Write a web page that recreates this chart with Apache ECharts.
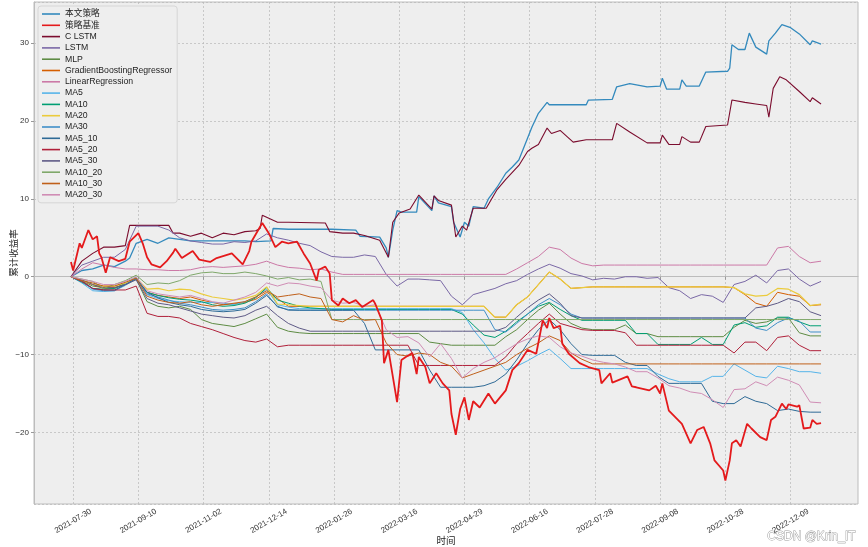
<!DOCTYPE html>
<html><head><meta charset="utf-8">
<script src="https://cdn.jsdelivr.net/npm/echarts@6/dist/echarts.min.js"></script>
<style>html,body{margin:0;padding:0;background:#fff}#c{width:868px;height:547px}</style>
</head><body><div id="c"></div><script>
// x tick labels (every 30 trading days, first at trading day 1)
const tickLabels = ['2021-07-30','2021-09-10','2021-11-02','2021-12-14','2022-01-26','2022-03-16','2022-04-29','2022-06-16','2022-07-28','2022-09-08','2022-10-28','2022-12-09'];
const N_DAYS = 346;   // trading days in the series
const STEP = 5;       // most series are read every 5 trading days
const PAD = 17;       // axis margin in days on each side

const names = ['本文策略','策略基准','C LSTM','LSTM','MLP','GradientBoostingRegressor','LinearRegression','MA5','MA10','MA20','MA30','MA5_10','MA5_20','MA5_30','MA10_20','MA10_30','MA20_30'];

// main lines: read at their turning points (day index, value)
const benwenDays = [0,5,10,15,20,25,27,30,35,40,45,50,55,60,65,70,75,80,85,92,93,100,110,120,131,133,142,145,146,148,150,152,159,160,166,167,169,175,176,179,181,183,185,190,192,196,200,203,206,210,212,215,219,220,237,238,249,251,257,265,271,272,274,280,281,283,289,292,302,303,304,307,310,312,315,320,321,324,327,331,335,340,341,345];
const benwen = [0,0.8,1.0,1.5,1.3,2.0,2.4,4.3,4.8,4.3,5.0,4.8,4.6,4.6,4.6,4.6,4.6,4.6,4.5,4.6,6.2,6.1,6.1,6.1,6.0,5.2,5.1,3.7,2.5,6.0,8.5,8.3,8.3,10.3,8.5,10.4,9.5,9.0,7.0,5.1,7.0,6.5,9.0,8.8,10.0,11.5,13.3,14.1,15.0,17.8,19.2,21.0,22.4,22.1,22.1,22.7,22.8,24.4,24.8,24.4,24.5,25.5,24.1,24.1,25.3,24.5,24.5,26.3,26.4,26.8,29.8,29.2,29.2,31.3,29.5,28.6,30.3,31.3,32.4,32.0,31.2,29.8,30.3,29.9];
const baselineDays = [0,1,4,5,8,10,12,13,14,16,18,22,25,27,31,33,35,37,41,44,47,48,51,56,59,64,67,74,79,82,83,88,91,94,97,100,104,107,110,113,114,117,119,120,123,125,128,131,134,139,140,143,144,146,150,152,154,157,159,160,163,165,168,171,174,175,177,179,181,183,185,188,192,195,200,203,206,210,214,217,219,220,222,225,226,229,234,238,243,244,248,249,256,258,260,266,269,271,272,275,281,285,288,291,294,296,300,301,303,304,306,308,311,313,317,320,322,324,327,329,330,334,335,337,340,341,343,345];
const baseline = [1.9,0.8,4.3,3.7,6.0,4.8,5.2,3.0,2.5,0.5,2.5,2.0,2.3,4.5,5.6,4.3,2.5,1.6,1.2,2.0,3.1,3.6,2.4,3.3,2.2,1.9,2.4,3.0,1.6,3.3,4.5,6.9,5.6,3.8,4.5,4.3,4.5,3.0,1.7,-0.5,0.9,1.3,0.4,-3.0,-3.7,-2.8,-3.4,-3.0,-3.9,-3.0,-3.5,-5.6,-11.1,-9.4,-16.1,-10.7,-10.3,-9.8,-12.5,-10.3,-11.6,-13.7,-12.4,-13.7,-14.6,-17.6,-20.3,-17.0,-15.5,-18.4,-16.0,-16.8,-15.0,-16.3,-14.6,-12.0,-11.1,-9.4,-9.9,-5.6,-6.6,-5.3,-6.6,-6.3,-8.6,-9.9,-11.1,-11.6,-12.0,-13.7,-12.4,-13.6,-12.8,-14.1,-14.2,-14.6,-14.0,-15.0,-13.7,-17.2,-18.9,-21.4,-19.7,-19.3,-21.4,-23.6,-24.9,-26.2,-23.6,-21.4,-21.0,-21.8,-18.9,-19.5,-20.6,-21.0,-18.4,-18.0,-16.3,-17.0,-16.4,-16.7,-16.5,-19.5,-19.4,-18.4,-18.9,-18.8];
const cLstmDays = [0,5,10,15,20,25,27,45,47,50,55,60,65,70,75,80,85,87,88,95,100,117,119,125,130,135,142,146,148,151,156,160,166,167,169,175,177,180,182,185,191,196,200,206,210,212,215,219,221,225,231,237,249,251,257,265,271,272,275,280,281,285,289,292,302,304,310,315,320,321,323,326,329,335,340,341,345];
const cLstm = [0,2.0,3.0,3.8,3.8,4.0,6.6,6.6,5.6,5.6,5.2,5.6,5.0,5.6,5.4,5.8,5.9,6.2,7.9,7.0,7.0,6.9,5.8,5.6,5.6,5.3,4.7,2.5,7.0,8.2,8.7,10.5,8.7,10.4,9.8,9.2,5.1,6.5,6.0,8.8,8.8,11.2,12.5,14.3,16.1,16.5,17.0,19.1,18.4,18.8,17.3,17.6,17.6,19.7,18.6,17.2,17.2,18.2,17.0,17.0,18.0,17.3,17.3,19.3,19.5,22.7,22.4,22.2,22.0,20.5,24.2,25.7,25.3,23.8,22.5,23.0,22.2];

// other lines: read every STEP trading days (day 0, 5, ..., 345)
const lstm = [0,1.5,2.0,2.5,2.5,3.5,6.5,6.5,6.5,6.0, 5.0,4.6,4.4,4.2,4.2,4.5,4.4,4.6,5.5,5.0, 4.7,4.3,4.0,3.2,2.6,2.5,2.5,2.8,2.6,0.3, -1.2,-0.3,-0.3,-0.4,-0.5,-2.5,-3.6,-2.3,-1.9,-1.5, -0.9,-0.5,0.3,1.0,1.6,1.1,0.4,0.1,-0.4,-0.2, -0.3,0.0,0.0,-0.2,-0.1,-1.4,-1.8,-2.8,-2.3,-2.5, -3.3,-1.0,-0.6,0.2,-0.8,0.8,1.0,-0.3,-1.2,-0.6];
const mlp = [0,-0.5,-1.2,-1.4,-1.5,-1.0,-0.3,-3.2,-3.8,-4.0, -3.8,-4.2,-5.5,-6.0,-6.2,-6.4,-6.0,-5.4,-4.8,-6.5, -7.0,-7.2,-7.3,-7.3,-7.3,-7.3,-7.3,-7.3,-7.3,-7.3, -7.3,-7.3,-7.3,-8.4,-8.6,-8.8,-8.8,-8.8,-8.8,-8.8, -7.7,-6.8,-5.5,-4.3,-3.4,-4.8,-6.0,-6.6,-6.8,-6.8, -6.8,-6.2,-7.3,-7.3,-7.7,-7.7,-7.7,-7.7,-7.7,-7.7, -7.7,-6.5,-5.6,-6.0,-5.8,-5.3,-5.3,-7.2,-7.6,-7.6];
const gbr = [0,-0.6,-1.0,-1.5,-1.4,-1.0,-0.3,-2.0,-2.4,-2.6, -2.8,-2.6,-3.0,-3.3,-3.6,-3.5,-3.3,-2.9,-2.0,-2.8, -3.8,-3.8,-3.8,-3.8,-3.8,-3.8,-3.8,-3.8,-3.8,-3.8, -3.8,-3.8,-3.8,-3.8,-3.8,-3.8,-3.8,-3.8,-3.8,-5.2, -5.2,-3.6,-2.6,-1.0,0.6,-0.3,-1.5,-1.4,-1.3,-1.3, -1.3,-1.3,-1.3,-1.3,-1.3,-1.3,-1.3,-1.3,-1.3,-1.3, -1.3,-1.4,-2.3,-3.4,-3.8,-2.0,-2.3,-2.5,-3.7,-3.6];
const lr = [0,1.0,1.8,1.5,1.2,1.0,1.0,0.9,0.9,0.8, 0.8,0.9,1.2,1.3,1.2,1.3,1.4,1.6,2.0,1.5, 1.2,1.1,0.9,1.0,0.6,0.3,0.3,0.3,0.3,0.3, 0.3,0.3,0.3,0.3,0.3,0.3,0.3,0.3,0.3,0.3, 0.3,1.0,1.8,2.6,3.8,3.5,2.4,1.7,1.4,1.5, 1.5,1.5,1.5,1.5,1.5,1.5,1.5,1.5,1.5,1.5, 1.5,1.5,1.5,1.5,1.5,3.7,3.9,2.6,1.8,2.0];
const ma5 = [0,-0.8,-1.8,-1.9,-1.8,-1.0,-0.2,-2.3,-2.8,-3.1, -3.2,-3.3,-3.3,-3.3,-3.4,-3.6,-3.2,-2.6,-1.6,-3.6, -3.9,-4.1,-4.1,-4.1,-4.1,-4.1,-4.1,-4.1,-4.1,-4.1, -4.1,-4.1,-4.1,-4.1,-4.1,-4.1,-4.6,-6.8,-8.5,-10.5, -12.0,-11.5,-10.8,-10.0,-9.3,-10.5,-11.8,-11.8,-11.8,-11.8, -11.8,-11.8,-11.8,-11.8,-12.5,-13.1,-13.5,-13.5,-13.5,-12.8, -12.8,-11.2,-12.0,-12.8,-13.0,-11.5,-11.8,-12.2,-12.2,-12.4];
const ma10 = [0,-0.7,-1.5,-1.6,-1.5,-0.8,-0.1,-2.0,-2.4,-2.7, -2.9,-3.0,-3.2,-3.6,-3.8,-3.7,-3.4,-2.7,-1.4,-3.0, -3.4,-3.8,-4.0,-4.1,-4.2,-4.2,-4.2,-4.2,-4.2,-4.2, -4.2,-4.2,-4.2,-4.2,-4.2,-4.2,-4.8,-6.2,-7.5,-7.8, -7.0,-5.8,-4.8,-3.8,-3.3,-4.2,-5.0,-5.6,-5.6,-5.6, -5.6,-5.6,-7.3,-7.3,-8.7,-8.7,-8.7,-8.7,-7.8,-8.7, -8.7,-6.2,-5.9,-6.5,-6.3,-5.2,-5.2,-5.8,-6.3,-6.3];
const ma20 = [0,-0.5,-1.0,-1.2,-1.2,-0.8,-0.2,-1.6,-1.5,-1.8, -1.6,-1.7,-2.2,-2.6,-2.8,-3.0,-2.8,-2.4,-1.3,-3.5, -3.6,-3.7,-3.8,-3.8,-3.8,-3.8,-3.8,-3.8,-3.8,-3.8, -3.8,-3.8,-3.8,-3.8,-3.8,-3.8,-3.8,-3.8,-3.8,-5.2, -5.2,-3.6,-2.6,-1.0,0.6,-0.3,-1.5,-1.4,-1.3,-1.3, -1.3,-1.3,-1.3,-1.3,-1.3,-1.3,-1.3,-1.3,-1.3,-1.3, -1.3,-1.4,-2.2,-2.5,-2.4,-1.5,-1.6,-2.3,-3.7,-3.5];
const ma30 = [0,-0.6,-1.6,-1.8,-1.8,-1.1,-0.3,-2.2,-2.6,-3.0, -3.4,-3.6,-3.9,-4.2,-4.3,-4.2,-4.0,-3.2,-2.2,-3.9, -4.2,-4.3,-4.3,-4.3,-4.3,-4.3,-4.3,-4.3,-4.3,-4.3, -4.3,-4.3,-4.3,-4.3,-4.3,-4.3,-4.3,-4.3,-4.3,-6.8, -7.1,-6.0,-4.8,-3.6,-2.8,-3.6,-4.8,-5.3,-5.3,-5.3, -5.3,-5.3,-5.3,-5.3,-5.3,-5.3,-5.3,-5.3,-5.3,-5.3, -5.3,-5.3,-5.3,-6.6,-6.9,-5.9,-5.3,-5.7,-7.1,-7.1];
const ma5_10 = [0,-0.5,-1.5,-1.7,-1.7,-1.0,-0.2,-2.0,-2.7,-3.3, -3.6,-3.8,-4.2,-4.4,-4.5,-4.4,-4.2,-3.4,-2.4,-3.8, -4.3,-4.3,-4.3,-4.3,-4.3,-4.3,-4.3,-6.0,-9.4,-9.4, -9.4,-9.4,-9.4,-12.0,-14.2,-14.2,-14.2,-14.2,-14.0,-13.5, -12.5,-10.7,-8.6,-6.8,-5.5,-6.8,-8.6,-10.0,-10.1,-10.1, -10.1,-11.0,-11.4,-11.4,-12.8,-13.7,-13.7,-13.7,-13.7,-16.0, -16.3,-16.3,-15.4,-16.0,-16.3,-17.2,-17.0,-17.3,-17.4,-17.4];
const ma5_20 = [0,-0.6,-1.5,-1.7,-1.7,-1.7,-1.2,-4.7,-5.1,-5.1, -5.3,-6.0,-6.4,-6.8,-7.3,-7.8,-8.2,-8.4,-8.0,-9.0, -8.8,-8.8,-8.8,-8.8,-8.8,-8.8,-8.8,-8.8,-8.8,-8.8, -8.8,-8.8,-11.4,-11.4,-11.4,-11.4,-11.4,-11.4,-11.4,-11.4, -10.3,-8.6,-7.3,-6.0,-4.8,-6.0,-6.4,-6.8,-6.9,-6.9, -6.9,-7.2,-8.8,-8.8,-8.8,-8.8,-8.8,-8.8,-8.8,-8.8, -8.8,-9.8,-8.4,-8.4,-9.5,-7.8,-7.6,-8.8,-9.5,-9.5];
const ma5_30 = [0,-0.4,-1.0,-1.4,-1.4,-1.0,-0.4,-2.8,-3.4,-3.6, -4.0,-4.4,-4.8,-5.0,-5.2,-5.3,-5.0,-4.3,-3.8,-5.0, -6.0,-6.6,-7.0,-7.0,-7.0,-7.0,-7.0,-7.0,-7.0,-7.0, -7.0,-7.0,-7.0,-7.0,-7.0,-7.0,-7.0,-7.0,-7.0,-7.0, -6.5,-5.2,-4.0,-3.0,-2.2,-3.4,-5.0,-5.3,-5.3,-5.3, -5.3,-5.3,-5.3,-5.3,-5.3,-5.3,-5.3,-5.3,-5.3,-5.3, -5.3,-5.3,-5.3,-4.0,-3.8,-3.4,-2.8,-3.2,-4.5,-5.0];
const ma10_20 = [0,-0.3,-0.6,-1.5,-1.0,-0.5,0.2,-1.0,-0.8,-0.9, -0.5,0.2,0.5,0.6,0.4,0.4,0.6,0.4,0.1,-0.3, -0.1,-0.4,-0.3,-0.6,-5.5,-5.5,-5.5,-5.5,-5.5,-5.5, -5.5,-5.5,-5.5,-5.5,-5.5,-5.5,-5.5,-5.5,-5.5,-5.5, -5.5,-5.5,-5.5,-5.5,-5.5,-5.5,-5.5,-5.5,-5.5,-5.5, -5.5,-5.5,-5.5,-5.5,-5.5,-5.5,-5.5,-5.5,-5.5,-5.5, -5.5,-5.5,-5.5,-5.5,-5.5,-5.5,-5.5,-5.5,-5.5,-5.5];
const ma10_30 = [0,-0.5,-0.8,-1.2,-1.2,-0.7,-0.2,-2.5,-3.0,-3.3, -3.4,-3.2,-3.6,-3.8,-3.6,-3.4,-3.2,-2.6,-1.8,-2.6, -2.4,-2.2,-2.6,-2.8,-5.5,-5.8,-5.0,-5.6,-5.5,-8.5, -10.0,-10.2,-9.8,-10.0,-11.0,-11.5,-13.0,-12.5,-12.0,-11.5, -11.0,-10.0,-9.2,-8.5,-7.6,-8.2,-9.8,-10.6,-11.2,-11.2, -11.2,-11.2,-11.2,-11.2,-11.2,-11.2,-11.2,-11.2,-11.2,-11.2, -11.2,-11.2,-11.2,-11.2,-11.2,-11.2,-11.2,-11.2,-11.2,-11.2];
const ma20_30 = [0,-0.3,-0.6,-1.0,-1.0,-0.6,0.0,-1.8,-2.2,-2.4, -2.6,-2.4,-2.8,-3.2,-3.4,-3.0,-2.6,-2.0,-0.8,-1.2, -0.8,-0.9,-1.2,-1.4,-3.0,-3.4,-3.3,-3.8,-3.6,-6.8, -7.8,-7.7,-8.5,-10.3,-8.6,-10.5,-13.0,-11.8,-11.0,-10.4, -9.5,-8.6,-8.0,-7.6,-7.8,-9.0,-9.8,-10.2,-10.7,-11.0, -11.2,-11.6,-12.2,-12.2,-13.0,-14.0,-14.3,-14.8,-15.0,-15.8, -16.8,-14.5,-14.4,-13.5,-14.0,-12.9,-13.3,-13.9,-16.1,-16.2];

const stepDays = lstm.map((_, k) => k * STEP);
const values = [benwen, baseline, cLstm, lstm, mlp, gbr, lr, ma5, ma10, ma20, ma30, ma5_10, ma5_20, ma5_30, ma10_20, ma10_30, ma20_30];
const days = [benwenDays, baselineDays, cLstmDays].concat(values.slice(3).map(() => stepDays));
const colors = ['#348ABD','#E41A1C','#7B0C2E','#7A68A6','#5E8C44','#D55E00','#CC79A7','#56B4E9','#009E73','#EBCB3C','#3F8FC8','#2E6A96','#B0203A','#5E5A86','#7FA86A','#C0601A','#D08DB5'];
const widths = [1.3,1.8,1.1,1,1,1,1,1,1,1.2,1,1,1,1,1,1,1];

// category axis: padding days + trading days + padding days
const categories = [];
for (let c = 0; c < PAD + N_DAYS + PAD; c++) {
  const i = c - PAD - 1;
  categories.push(i >= 0 && i % 30 === 0 && i / 30 < tickLabels.length ? tickLabels[i / 30] : '');
}
const isTick = (idx, val) => val !== '';
const FONT = "'Liberation Sans','Noto Sans CJK SC',sans-serif";

const chart = echarts.init(document.getElementById('c'), null, {renderer: 'canvas'});
chart.setOption({
  animation: false,
  backgroundColor: '#ffffff',
  textStyle: {fontFamily: FONT},
  grid: {left: 34, right: 10, top: 2, bottom: 43, containLabel: false, outerBoundsMode: 'none',
         show: true, backgroundColor: '#eeeeee', borderColor: '#bcbcbc', borderWidth: 1},
  legend: {
    orient: 'vertical', left: 38, top: 6, icon: 'rect', itemWidth: 18, itemHeight: 1.6, itemGap: 1.3,
    padding: [3, 5, 3, 4], backgroundColor: '#eeeeee', borderColor: '#cfcfcf', borderWidth: 0.8, borderRadius: 3,
    textStyle: {fontSize: 8.7, lineHeight: 10, color: '#222', fontFamily: FONT},
    data: names
  },
  xAxis: {
    type: 'category', boundaryGap: false, data: categories,
    name: '时间', nameLocation: 'middle', nameGap: 33, nameMoveOverlap: false, nameTextStyle: {fontSize: 9.5, color: '#222'},
    axisLine: {lineStyle: {color: '#bcbcbc'}},
    axisTick: {show: true, interval: isTick, length: 3, lineStyle: {color: '#999'}},
    axisLabel: {interval: isTick, rotate: 30, fontSize: 8, color: '#333', margin: 17, align: 'center', verticalAlign: 'middle'},
    splitLine: {show: true, interval: isTick, lineStyle: {color: '#b8b8b8', type: [2, 2], width: 0.7}}
  },
  yAxis: {
    type: 'value', min: -29.2, max: 35.3, splitNumber: 6,
    name: '累计收益率', nameLocation: 'middle', nameGap: 15, nameMoveOverlap: false, nameTextStyle: {fontSize: 9.5, color: '#222'},
    axisLine: {show: true, lineStyle: {color: '#bcbcbc'}},
    axisTick: {show: true, length: 3, lineStyle: {color: '#999'}},
    axisLabel: {fontSize: 8, color: '#333', margin: 5, showMinLabel: false, showMaxLabel: false,
      formatter: v => Math.abs(v / 10 - Math.round(v / 10)) > 1e-6 ? '' : (v < 0 ? '\u2212' + (-v) : String(v))},
    splitLine: {show: true, lineStyle: {color: '#b8b8b8', type: [2, 2], width: 0.7}}
  },
  graphic: [{type: 'text', right: 12, bottom: 4, style: {text: 'CSDN @Krin_IT', fontSize: 12, fill: '#ffffff', stroke: '#9a9a9a', lineWidth: 0.9, fontFamily: FONT}}],
  series: names.map((n, s) => ({
    name: n, type: 'line', showSymbol: false, symbol: 'none',
    lineStyle: {color: colors[s], width: widths[s]}, itemStyle: {color: colors[s]},
    z: s === 1 ? 4 : 2,
    data: values[s].map((v, k) => [PAD + days[s][k], v])
  }))
});
</script></body></html>
